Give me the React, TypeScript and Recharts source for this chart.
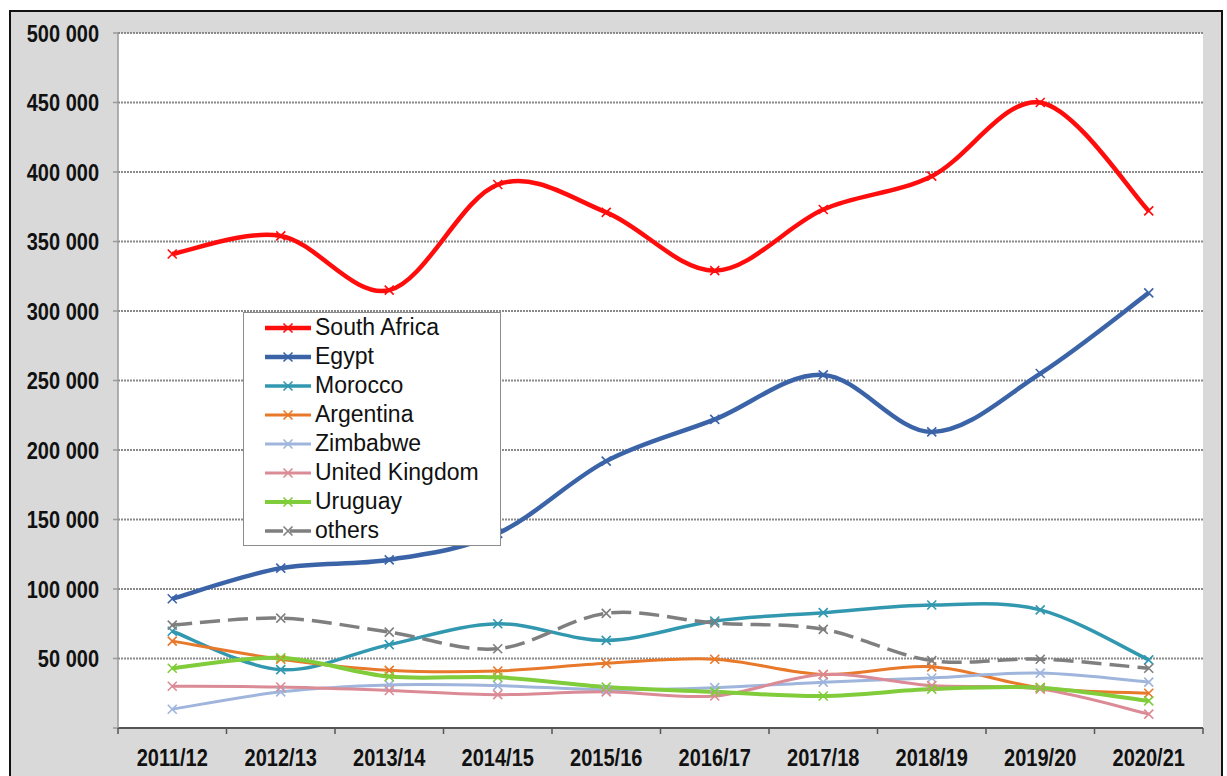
import { CartesianGrid, Legend, Line, LineChart, XAxis, YAxis } from "recharts";

const seasons = [
  "2011/12", "2012/13", "2013/14", "2014/15", "2015/16",
  "2016/17", "2017/18", "2018/19", "2019/20", "2020/21",
];

const southAfrica = [341000, 354000, 315000, 391000, 371000, 329000, 373000, 397000, 450000, 372000];
const egypt = [93000, 115000, 121000, 140000, 192000, 222000, 254000, 213000, 255000, 313000];
const morocco = [69600, 42000, 60000, 75000, 63000, 77000, 83000, 88500, 85000, 49000];
const argentina = [62500, 49500, 41500, 41000, 46500, 49500, 38500, 44000, 29000, 25000];
const zimbabwe = [13500, 26000, 31000, 30500, 27500, 29000, 33000, 36000, 39500, 33000];
const unitedKingdom = [30000, 29500, 27000, 24000, 26000, 23000, 38500, 30500, 28000, 10000];
const uruguay = [43000, 50500, 37000, 36500, 29500, 26000, 23000, 28000, 29000, 19500];
const others = [74000, 79000, 69000, 57000, 82500, 75500, 71000, 48500, 49500, 43000];

const yTicks = [0, 50000, 100000, 150000, 200000, 250000, 300000, 350000, 400000, 450000, 500000];

const series = [
  { key: "sa", name: "South Africa", values: southAfrica, color: "#ff0d0d", width: 4.5 },
  { key: "eg", name: "Egypt", values: egypt, color: "#3b64a8", width: 4.5 },
  { key: "ma", name: "Morocco", values: morocco, color: "#3298b0", width: 3.5 },
  { key: "ar", name: "Argentina", values: argentina, color: "#e8782a", width: 3 },
  { key: "zw", name: "Zimbabwe", values: zimbabwe, color: "#9fb5dc", width: 3 },
  { key: "uk", name: "United Kingdom", values: unitedKingdom, color: "#db8b96", width: 3 },
  { key: "uy", name: "Uruguay", values: uruguay, color: "#80cc3a", width: 4 },
  { key: "ot", name: "others", values: others, color: "#7f7f7f", width: 3.5, dash: "20 8" },
];

const data = seasons.map((season, i) => {
  const row: Record<string, string | number> = { season };
  series.forEach((s) => (row[s.key] = s.values[i]));
  return row;
});

// half of one category slot, plot is 1085px wide for 10 seasons
const HALF_SLOT = 54.25;

// smoothed line like the spreadsheet one (catmull-rom style bezier)
const smoothCurve = (context: any) => {
  let pts: number[][] = [];
  return {
    areaStart() {},
    areaEnd() {},
    lineStart() {
      pts = [];
    },
    point(x: number, y: number) {
      pts.push([+x, +y]);
    },
    lineEnd() {
      if (!pts.length) return;
      context.moveTo(pts[0][0], pts[0][1]);
      for (let i = 0; i < pts.length - 1; i++) {
        const p0 = pts[i - 1] || pts[i];
        const p1 = pts[i];
        const p2 = pts[i + 1];
        const p3 = pts[i + 2] || pts[i + 1];
        context.bezierCurveTo(
          p1[0] + (p2[0] - p0[0]) / 6,
          p1[1] + (p2[1] - p0[1]) / 6,
          p2[0] - (p3[0] - p1[0]) / 6,
          p2[1] - (p3[1] - p1[1]) / 6,
          p2[0],
          p2[1]
        );
      }
    },
  };
};

const fmt = (v: number) => (v === 0 ? "" : v.toLocaleString("en-US").replace(/,/g, " "));

const XTick = ({ x, y, payload, index }: any) => (
  <g transform={`translate(${x},${y})`}>
    <line x1={-HALF_SLOT} y1={-6} x2={-HALF_SLOT} y2={0} stroke="#555" strokeWidth={1.5} />
    {index === seasons.length - 1 && (
      <line x1={HALF_SLOT} y1={-6} x2={HALF_SLOT} y2={0} stroke="#555" strokeWidth={1.5} />
    )}
    <text
      transform="scale(1,1.2)"
      dy={26.5}
      textAnchor="middle"
      fontSize={20}
      fontWeight="bold"
      fill="#111"
      fontFamily="'Liberation Sans', Arial, sans-serif"
    >
      {payload.value}
    </text>
  </g>
);

const YTick = ({ x, y, payload }: any) => (
  <g transform={`translate(${x},${y})`}>
    <text
      transform="scale(1,1.2)"
      dy="0.36em"
      textAnchor="end"
      fontSize={20}
      fontWeight="bold"
      fill="#111"
      fontFamily="'Liberation Sans', Arial, sans-serif"
    >
      {fmt(payload.value)}
    </text>
  </g>
);

const XMark = ({ cx, cy, color }: { cx: number; cy: number; color: string }) => (
  <path
    d={`M${cx - 4.5},${cy - 4.5}L${cx + 4.5},${cy + 4.5}M${cx - 4.5},${cy + 4.5}L${cx + 4.5},${cy - 4.5}`}
    stroke={color}
    strokeWidth={1.6}
    fill="none"
  />
);

const LegendBox = () => (
  <div
    style={{
      width: 256,
      height: 232,
      border: "1px solid #8c8c8c",
      background: "#fff",
      fontFamily: "'Liberation Sans', Arial, sans-serif",
      fontSize: 23,
      color: "#111",
    }}
  >
    {series.map((s) => (
      <div key={s.key} style={{ display: "flex", alignItems: "center", height: 29, paddingLeft: 21 }}>
        <svg width={46} height={14} style={{ marginRight: 4 }}>
          <line
            x1={0}
            y1={7}
            x2={46}
            y2={7}
            stroke={s.color}
            strokeWidth={s.width}
            strokeDasharray={s.dash ? "18 7 6 0" : undefined}
          />
          <XMark cx={23} cy={7} color={s.color} />
        </svg>
        <span style={{ lineHeight: "29px" }}>{s.name}</span>
      </div>
    ))}
  </div>
);

const App = () => {
  return (
    <div
      style={{
        position: "absolute",
        left: 9,
        top: 10,
        width: 1214,
        height: 766,
        boxSizing: "border-box",
        border: "2px solid #111",
        borderBottom: "none",
        background: "#d9d9d9",
        overflow: "hidden",
      }}
    >
      <LineChart
        width={1210}
        height={764}
        data={data}
        margin={{ top: 21, right: 18, left: 10, bottom: 8 }}
      >
        <CartesianGrid
          vertical={false}
          fill="#fff"
          stroke="#8a8a8a"
          strokeWidth={2}
          strokeDasharray="2 1"
        />
        <XAxis
          dataKey="season"
          height={40}
          padding={{ left: HALF_SLOT, right: HALF_SLOT }}
          tickSize={6}
          tickMargin={0}
          tickLine={false}
          tick={<XTick />}
          stroke="#555"
          strokeWidth={2}
          interval={0}
        />
        <YAxis
          width={97}
          domain={[0, 500000]}
          ticks={yTicks}
          tickSize={5}
          tickMargin={14}
          tick={<YTick />}
          stroke="#999"
          strokeWidth={1.5}
          interval={0}
        />
        <Legend
          layout="vertical"
          align="center"
          verticalAlign="middle"
          wrapperStyle={{ position: "absolute", left: 232, top: 300, width: 258, height: 234 }}
          content={() => <LegendBox />}
        />
        {series.map((s) => (
          <Line
            key={s.key}
            dataKey={s.key}
            name={s.name}
            type={smoothCurve as any}
            stroke={s.color}
            strokeWidth={s.width}
            strokeDasharray={s.dash}
            dot={(p: any) => <XMark key={`${s.key}-${p.index}`} cx={p.cx} cy={p.cy} color={s.color} />}
            activeDot={false}
            isAnimationActive={false}
          />
        ))}
      </LineChart>
    </div>
  );
};

export default App;
